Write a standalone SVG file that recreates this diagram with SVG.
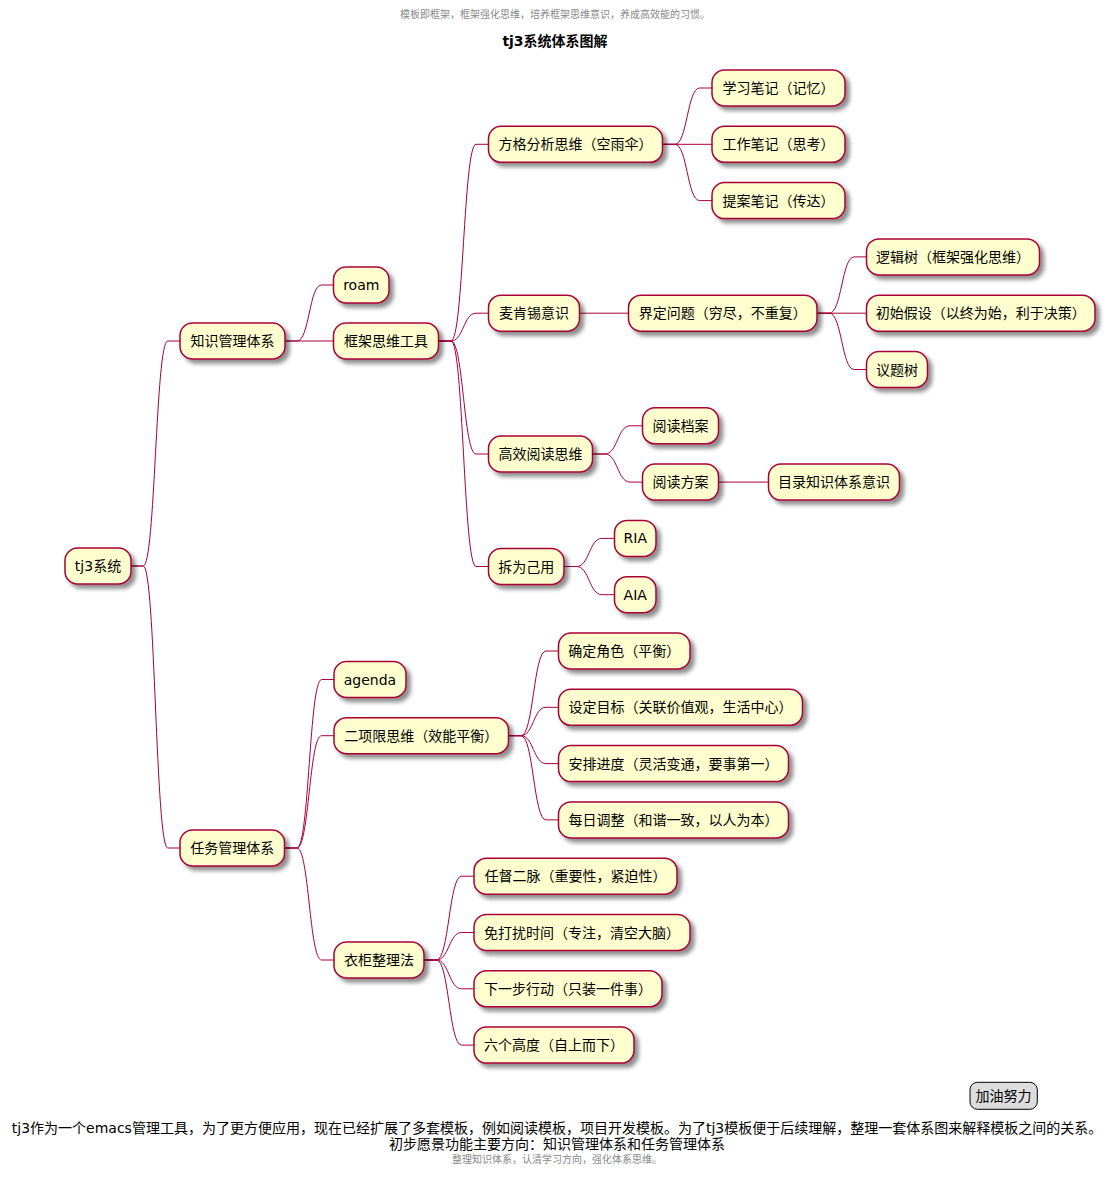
<svg xmlns="http://www.w3.org/2000/svg" width="1114" height="1177" viewBox="0 0 1114 1177">
<defs>
<filter id="sh" x="-20%" y="-30%" width="150%" height="180%">
<feGaussianBlur in="SourceAlpha" stdDeviation="2" result="b"/>
<feOffset in="b" dx="4" dy="4" result="o"/>
<feComponentTransfer in="o" result="c"><feFuncA type="linear" slope="0.45"/></feComponentTransfer>
<feMerge><feMergeNode in="c"/><feMergeNode in="SourceGraphic"/></feMerge>
</filter>
<style>
text{font-family:"DejaVu Sans","Noto Sans CJK SC",sans-serif;fill:#000}
.node rect{fill:#FEFECE;stroke:#A80036;stroke-width:1.5;filter:url(#sh)}
.node text{font-size:14px;text-anchor:middle}
#connectors path{fill:none;stroke:#A80036;stroke-width:1}
.note{font-size:10px;fill:#888888;text-anchor:middle}
.foot{font-size:14px;text-anchor:middle}
</style>
</defs>
<rect width="1114" height="1177" fill="#FFFFFF"/>
<text class="note" x="555" y="18">模板即框架，框架强化思维，培养框架思维意识，养成高效能的习惯。</text>
<text x="555" y="46" style="font-size:14px;font-weight:bold;text-anchor:middle">tj3系统体系图解</text>

<g id="connectors">
<path d="M131,566 L143.25,566 C155.5,566 155.5,341 167.75,341 L180,341"/>
<path d="M131,566 L143.25,566 C155.5,566 155.5,848 167.75,848 L180,848"/>
<path d="M285,341 L297.1,341 C309.25,341 309.25,285 321.4,285 L333.5,285"/>
<path d="M285,341 L333.5,341"/>
<path d="M438.5,341 L451,341 C463.5,341 463.5,144.3 476,144.3 L488.5,144.3"/>
<path d="M438.5,341 L451,341 C463.5,341 463.5,313.2 476,313.2 L488.5,313.2"/>
<path d="M438.5,341 L451,341 C463.5,341 463.5,454 476,454 L488.5,454"/>
<path d="M438.5,341 L451,341 C463.5,341 463.5,566.5 476,566.5 L488.5,566.5"/>
<path d="M662.5,144.3 L674.9,144.3 C687.25,144.3 687.25,88 699.6,88 L712,88"/>
<path d="M662.5,144.3 L712,144.3"/>
<path d="M662.5,144.3 L674.9,144.3 C687.25,144.3 687.25,200.6 699.6,200.6 L712,200.6"/>
<path d="M579.5,313.2 L628.5,313.2"/>
<path d="M817,313.2 L829.4,313.2 C841.75,313.2 841.75,256.9 854.1,256.9 L866.5,256.9"/>
<path d="M817,313.2 L866.5,313.2"/>
<path d="M817,313.2 L829.4,313.2 C841.75,313.2 841.75,369.5 854.1,369.5 L866.5,369.5"/>
<path d="M592.5,454 L605,454 C617.5,454 617.5,425.8 630,425.8 L642.5,425.8"/>
<path d="M592.5,454 L605,454 C617.5,454 617.5,482.1 630,482.1 L642.5,482.1"/>
<path d="M718.5,482.1 L768.5,482.1"/>
<path d="M564,566.5 L576.6,566.5 C589.25,566.5 589.25,538.4 601.9,538.4 L614.5,538.4"/>
<path d="M564,566.5 L576.6,566.5 C589.25,566.5 589.25,594.7 601.9,594.7 L614.5,594.7"/>
<path d="M284.5,848 L296.9,848 C309.25,848 309.25,679.5 321.6,679.5 L334,679.5"/>
<path d="M284.5,848 L296.9,848 C309.25,848 309.25,735.7 321.6,735.7 L334,735.7"/>
<path d="M284.5,848 L296.9,848 C309.25,848 309.25,960 321.6,960 L334,960"/>
<path d="M508.5,735.7 L521,735.7 C533.5,735.7 533.5,651 546,651 L558.5,651"/>
<path d="M508.5,735.7 L521,735.7 C533.5,735.7 533.5,707.3 546,707.3 L558.5,707.3"/>
<path d="M508.5,735.7 L521,735.7 C533.5,735.7 533.5,763.6 546,763.6 L558.5,763.6"/>
<path d="M508.5,735.7 L521,735.7 C533.5,735.7 533.5,819.9 546,819.9 L558.5,819.9"/>
<path d="M424,960 L436.5,960 C449,960 449,876.2 461.5,876.2 L474,876.2"/>
<path d="M424,960 L436.5,960 C449,960 449,932.5 461.5,932.5 L474,932.5"/>
<path d="M424,960 L436.5,960 C449,960 449,988.8 461.5,988.8 L474,988.8"/>
<path d="M424,960 L436.5,960 C449,960 449,1045.1 461.5,1045.1 L474,1045.1"/>
</g>

<g id="n-root" class="node"><rect x="65" y="548" width="66" height="36" rx="12.5"/><text x="98" y="571">tj3系统</text></g>
<g id="n-k1" class="node"><rect x="180" y="323" width="105" height="36" rx="12.5"/><text x="232.5" y="346">知识管理体系</text></g>
<g id="n-roam" class="node"><rect x="333.5" y="267" width="55.5" height="36" rx="12.5"/><text x="361.25" y="290">roam</text></g>
<g id="n-kjsw" class="node"><rect x="333.5" y="323" width="105" height="36" rx="12.5"/><text x="386" y="346">框架思维工具</text></g>
<g id="n-fg" class="node"><rect x="488.5" y="126.3" width="174" height="36" rx="12.5"/><text x="575.5" y="149.3">方格分析思维（空雨伞）</text></g>
<g id="n-xxbj" class="node"><rect x="712" y="70" width="133" height="36" rx="12.5"/><text x="778.5" y="93">学习笔记（记忆）</text></g>
<g id="n-gzbj" class="node"><rect x="712" y="126.3" width="133" height="36" rx="12.5"/><text x="778.5" y="149.3">工作笔记（思考）</text></g>
<g id="n-tabj" class="node"><rect x="712" y="182.6" width="133" height="36" rx="12.5"/><text x="778.5" y="205.6">提案笔记（传达）</text></g>
<g id="n-mkx" class="node"><rect x="488.5" y="295.2" width="91" height="36" rx="12.5"/><text x="534" y="318.2">麦肯锡意识</text></g>
<g id="n-jdwt" class="node"><rect x="628.5" y="295.2" width="188.5" height="36" rx="12.5"/><text x="722.75" y="318.2">界定问题（穷尽，不重复）</text></g>
<g id="n-ljs" class="node"><rect x="866.5" y="238.9" width="173" height="36" rx="12.5"/><text x="953" y="261.9">逻辑树（框架强化思维）</text></g>
<g id="n-csjs" class="node"><rect x="866.5" y="295.2" width="228.5" height="36" rx="12.5"/><text x="980.75" y="318.2">初始假设（以终为始，利于决策）</text></g>
<g id="n-yts" class="node"><rect x="866.5" y="351.5" width="61" height="36" rx="12.5"/><text x="897" y="374.5">议题树</text></g>
<g id="n-gxyd" class="node"><rect x="488.5" y="436" width="104" height="36" rx="12.5"/><text x="540.5" y="459">高效阅读思维</text></g>
<g id="n-ydda" class="node"><rect x="642.5" y="407.8" width="76" height="36" rx="12.5"/><text x="680.5" y="430.8">阅读档案</text></g>
<g id="n-ydfa" class="node"><rect x="642.5" y="464.1" width="76" height="36" rx="12.5"/><text x="680.5" y="487.1">阅读方案</text></g>
<g id="n-mlzs" class="node"><rect x="768.5" y="464.1" width="131" height="36" rx="12.5"/><text x="834" y="487.1">目录知识体系意识</text></g>
<g id="n-cwjy" class="node"><rect x="488.5" y="548.5" width="75.5" height="36" rx="12.5"/><text x="526.25" y="571.5">拆为己用</text></g>
<g id="n-ria" class="node"><rect x="614.5" y="520.4" width="41.5" height="36" rx="12.5"/><text x="635.25" y="543.4">RIA</text></g>
<g id="n-aia" class="node"><rect x="614.5" y="576.7" width="41.5" height="36" rx="12.5"/><text x="635.25" y="599.7">AIA</text></g>
<g id="n-t1" class="node"><rect x="180" y="830" width="104.5" height="36" rx="12.5"/><text x="232.25" y="853">任务管理体系</text></g>
<g id="n-agenda" class="node"><rect x="334" y="661.5" width="72" height="36" rx="12.5"/><text x="370" y="684.5">agenda</text></g>
<g id="n-exx" class="node"><rect x="334" y="717.7" width="174.5" height="36" rx="12.5"/><text x="421.25" y="740.7">二项限思维（效能平衡）</text></g>
<g id="n-qdjs" class="node"><rect x="558.5" y="633" width="131.5" height="36" rx="12.5"/><text x="624.25" y="656">确定角色（平衡）</text></g>
<g id="n-sdmb" class="node"><rect x="558.5" y="689.3" width="244" height="36" rx="12.5"/><text x="680.5" y="712.3">设定目标（关联价值观，生活中心）</text></g>
<g id="n-apjd" class="node"><rect x="558.5" y="745.6" width="230" height="36" rx="12.5"/><text x="673.5" y="768.6">安排进度（灵活变通，要事第一）</text></g>
<g id="n-mrtz" class="node"><rect x="558.5" y="801.9" width="230" height="36" rx="12.5"/><text x="673.5" y="824.9">每日调整（和谐一致，以人为本）</text></g>
<g id="n-ygzl" class="node"><rect x="334" y="942" width="90" height="36" rx="12.5"/><text x="379" y="965">衣柜整理法</text></g>
<g id="n-rdem" class="node"><rect x="474" y="858.2" width="203" height="36" rx="12.5"/><text x="575.5" y="881.2">任督二脉（重要性，紧迫性）</text></g>
<g id="n-mdr" class="node"><rect x="474" y="914.5" width="216" height="36" rx="12.5"/><text x="582" y="937.5">免打扰时间（专注，清空大脑）</text></g>
<g id="n-xybx" class="node"><rect x="474" y="970.8" width="188" height="36" rx="12.5"/><text x="568" y="993.8">下一步行动（只装一件事）</text></g>
<g id="n-lggd" class="node"><rect x="474" y="1027.1" width="160" height="36" rx="12.5"/><text x="554" y="1050.1">六个高度（自上而下）</text></g>

<g id="legend"><rect x="970" y="1082.3" width="67.3" height="27" rx="7.5" fill="#DDDDDD" stroke="#000000" stroke-width="1"/><text x="1003.6" y="1101" style="font-size:14px;text-anchor:middle">加油努力</text></g>

<text class="foot" x="557" y="1133">tj3作为一个emacs管理工具，为了更方便应用，现在已经扩展了多套模板，例如阅读模板，项目开发模板。为了tj3模板便于后续理解，整理一套体系图来解释模板之间的关系。</text>
<text class="foot" x="557" y="1149">初步愿景功能主要方向：知识管理体系和任务管理体系</text>
<text class="note" x="557" y="1163">整理知识体系，认清学习方向，强化体系思维。</text>
</svg>
